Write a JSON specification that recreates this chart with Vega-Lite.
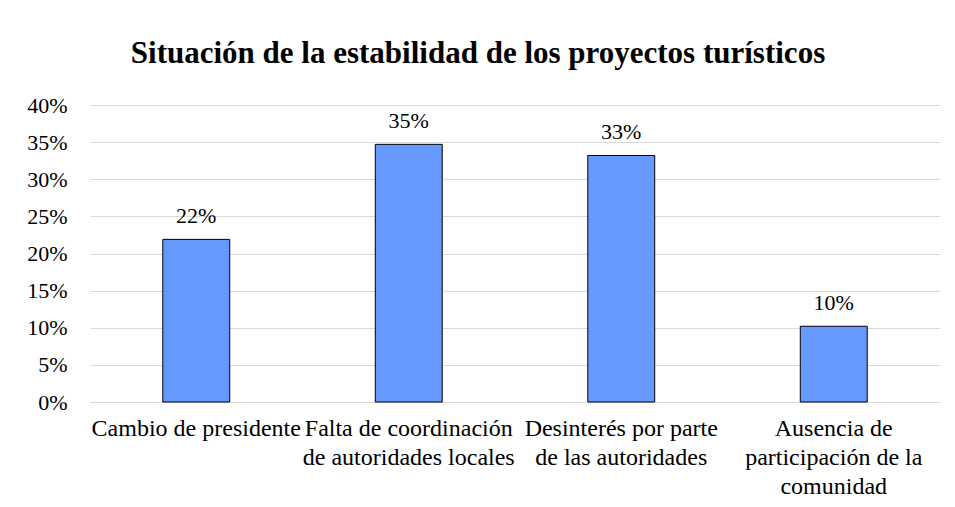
{
  "$schema": "https://vega.github.io/schema/vega-lite/v6.json",
  "width": 850,
  "height": 297,
  "autosize": "none",
  "padding": {"left": 90, "top": 105, "right": 15, "bottom": 105},
  "background": "white",
  "title": {
    "text": "Situación de la estabilidad de los proyectos turísticos",
    "font": "Liberation Serif",
    "fontSize": 31,
    "fontWeight": "bold",
    "color": "black",
    "anchor": "middle",
    "dx": -37,
    "offset": 0,
    "baseline": "alphabetic"
  },
  "config": {"view": {"stroke": null}},
  "data": {
    "values": [
      {"causa": "Cambio de presidente", "porcentaje": 0.219},
      {"causa": "Falta de coordinación de autoridades locales", "porcentaje": 0.347},
      {"causa": "Desinterés por parte de las autoridades", "porcentaje": 0.332},
      {"causa": "Ausencia de participación de la comunidad", "porcentaje": 0.102}
    ]
  },
  "encoding": {
    "x": {
      "field": "causa",
      "type": "nominal",
      "sort": null,
      "title": null,
      "scale": {"paddingInner": 0.685, "paddingOuter": 0.3425},
      "axis": {
        "labelAngle": 0,
        "labelFont": "Liberation Serif",
        "labelFontSize": 24,
        "labelColor": "black",
        "labelLineHeight": 29,
        "labelPadding": 14,
        "labelLimit": 0,
        "ticks": false,
        "domain": true,
        "domainColor": "#D9D9D9",
        "domainWidth": 1,
        "grid": false,
        "labelExpr": "datum.value == 'Falta de coordinación de autoridades locales' ? ['Falta de coordinación', 'de autoridades locales'] : datum.value == 'Desinterés por parte de las autoridades' ? ['Desinterés por parte', 'de las autoridades'] : datum.value == 'Ausencia de participación de la comunidad' ? ['Ausencia de', 'participación de la', 'comunidad'] : datum.value"
      }
    },
    "y": {
      "field": "porcentaje",
      "type": "quantitative",
      "title": null,
      "scale": {"domain": [0, 0.4], "nice": false},
      "axis": {
        "values": [0, 0.05, 0.1, 0.15, 0.2, 0.25, 0.3, 0.35, 0.4],
        "format": ".0%",
        "labelFont": "Liberation Serif",
        "labelFontSize": 22,
        "labelColor": "black",
        "labelPadding": 23,
        "ticks": false,
        "domain": false,
        "grid": true,
        "gridColor": "#D9D9D9",
        "gridWidth": 1
      }
    }
  },
  "layer": [
    {"mark": {"type": "bar", "fill": "#6699FF", "stroke": "black", "strokeWidth": 1}},
    {
      "mark": {"type": "text", "baseline": "alphabetic", "dy": -16, "font": "Liberation Serif", "fontSize": 22, "color": "black"},
      "encoding": {"text": {"field": "porcentaje", "type": "quantitative", "format": ".0%"}}
    }
  ]
}
